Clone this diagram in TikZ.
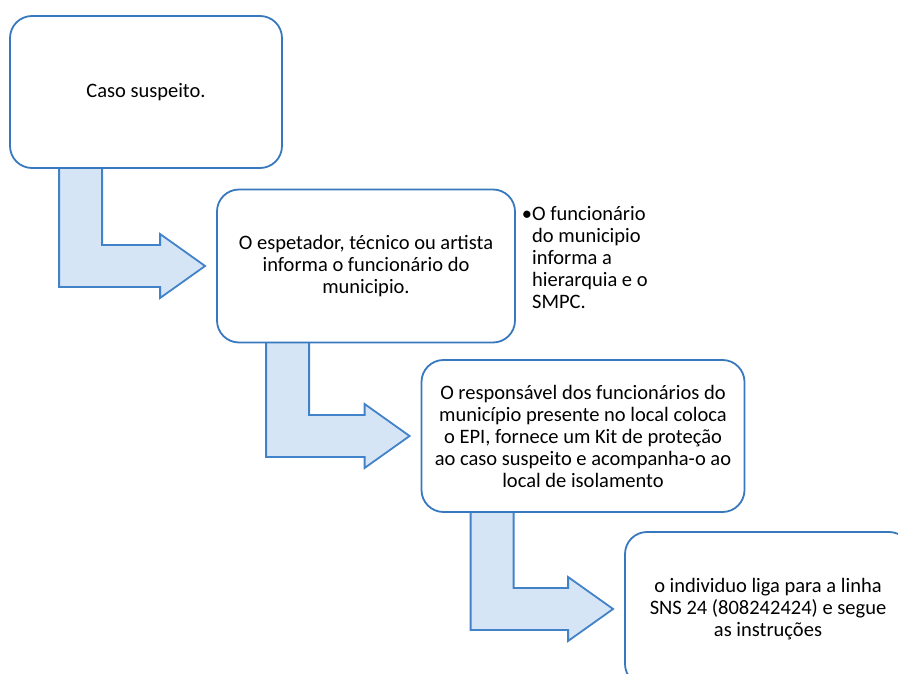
\documentclass[tikz,border=0pt]{standalone}
\usepackage{fontspec}
\setmainfont{Carlito}
\usetikzlibrary{calc,backgrounds}
\definecolor{bordo}{HTML}{3878BE}
\definecolor{freccia}{HTML}{D5E5F6}
\definecolor{bordofreccia}{HTML}{4282C8}
\tikzset{
  passo/.style={draw=bordo, line width=1.8pt, fill=white, rounded corners=22pt,
    align=center, font=\fontsize{20.5}{22}\selectfont, inner sep=0pt},
  frecciona/.style={draw=bordofreccia, fill=freccia, line width=1.8pt, line join=miter},
}
\begin{document}
\begin{tikzpicture}[x=1pt,y=-1pt]
\useasboundingbox (0,0) rectangle (898,674);
% riquadri
\node[passo, minimum width=272pt, minimum height=152pt] (caso) at (146,92) {Caso suspeito.};
\node[passo, minimum width=298pt, minimum height=153pt] (espetador) at (366,266) {O espetador, técnico ou artista\\informa o funcionário do\\municipio.};
\node[passo, minimum width=323pt, minimum height=152pt] (responsavel) at (583,436) {O responsável dos funcionários do\\município presente no local coloca\\o EPI, fornece um Kit de proteção\\ao caso suspeito e acompanha-o ao\\local de isolamento};
\node[passo, minimum width=286pt, minimum height=154pt] (individuo) at (768,609) {o individuo liga para a linha\\SNS 24 (808242424) e segue\\as instruções};
% nota
\node[anchor=north west, align=left, inner sep=0pt, font=\fontsize{20.5}{22}\selectfont] (nota) at (532,206) {\llap{•}O funcionário\\do municipio\\informa a\\hierarquia e o\\SMPC.};
% frecce
\begin{scope}[on background layer]
\foreach \da/\a in {caso/espetador, espetador/responsavel, responsavel/individuo}
  \draw[frecciona] let \p1=($(\da.south west)+(50,-3)$), \p2=($(\a.west)+(-11,0)$) in
    (\p1) -- (\x1+43pt,\y1) -- (\x1+43pt,\y2+21pt) -- (\x2-45pt,\y2+21pt)
    -- (\x2-45pt,\y2+32pt) -- (\p2) -- (\x2-45pt,\y2-32pt)
    -- (\x2-45pt,\y2-21pt) -- (\x1,\y2-21pt) -- cycle;
\end{scope}
\end{tikzpicture}
\end{document}
